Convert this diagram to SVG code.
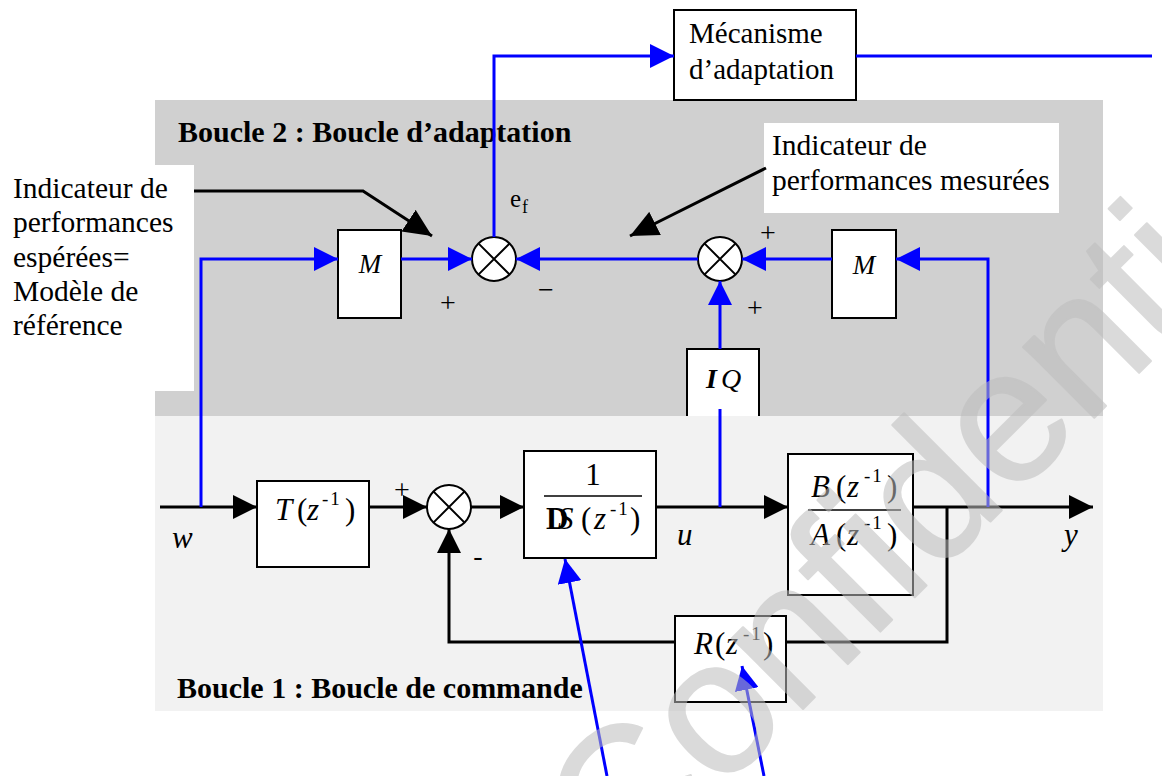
<svg xmlns="http://www.w3.org/2000/svg" width="1162" height="776" viewBox="0 0 1162 776">
<defs>
<style>
.blk{stroke:#000;stroke-width:3;fill:none}
.blu{stroke:#0000ff;stroke-width:3;fill:none}
.box{fill:#fff;stroke:#000;stroke-width:2}
.t{font-family:"Liberation Serif","Times New Roman",serif;fill:#000}
.lbl{font-size:29.5px}
.hd{font-size:30px;font-weight:bold}
.m{font-size:31px}
.i{font-style:italic}
.s{font-size:19px;letter-spacing:2px;font-style:normal}
.sg{font-size:28px;text-anchor:middle}
</style>
<marker id="ab" viewBox="0 0 24 24" markerWidth="24" markerHeight="24" refX="24" refY="12" orient="auto" markerUnits="userSpaceOnUse"><path d="M0,0L24,12L0,24z" fill="#000"/></marker>
<marker id="au" viewBox="0 0 24 24" markerWidth="24" markerHeight="24" refX="24" refY="12" orient="auto" markerUnits="userSpaceOnUse"><path d="M0,0L24,12L0,24z" fill="#0000ff"/></marker>
<marker id="ac" viewBox="0 0 28 26" markerWidth="28" markerHeight="26" refX="28" refY="13" orient="auto" markerUnits="userSpaceOnUse"><path d="M0,0L28,13L0,26z" fill="#000"/></marker>
<g id="sj"><circle r="22" fill="#fff" stroke="#000" stroke-width="2"/><path d="M-15.6,-15.6L15.6,15.6M15.6,-15.6L-15.6,15.6" stroke="#000" stroke-width="2"/></g>
</defs>

<g id="regions">
<rect x="155" y="100" width="948" height="316" fill="#d0d0d0"/>
<rect x="155" y="416" width="948" height="295" fill="#f2f2f2"/>
<rect x="0" y="165" width="194" height="226" fill="#fff"/>
<rect x="764" y="123" width="295" height="90" fill="#fff"/>
<text class="t hd" x="178" y="142">Boucle 2 : Boucle d’adaptation</text>
<text class="t hd" x="177" y="698">Boucle 1 : Boucle de commande</text>
</g>

<g id="label-esperees">
<text class="t lbl" x="13" y="198">Indicateur de</text>
<text class="t lbl" x="13" y="232">performances</text>
<text class="t lbl" x="13" y="267">espérées=</text>
<text class="t lbl" x="13" y="301">Modèle de</text>
<text class="t lbl" x="13" y="335">référence</text>
</g>

<g id="label-mesurees">
<text class="t lbl" x="772" y="155">Indicateur de</text>
<text class="t lbl" x="772" y="190">performances mesurées</text>
</g>

<g id="mecanisme">
<rect class="box" x="674" y="10" width="182" height="90"/>
<text class="t" font-size="29" x="689" y="43">Mécanisme</text>
<text class="t" font-size="29" x="689" y="79">d’adaptation</text>
</g>

<g id="M1">
<rect class="box" x="338" y="230" width="63" height="88"/>
<text class="t i" font-size="27" text-anchor="middle" x="370" y="273">M</text>
</g>
<g id="M2">
<rect class="box" x="832" y="230" width="64" height="88"/>
<text class="t i" font-size="27" text-anchor="middle" x="864" y="274">M</text>
</g>

<g id="IQ">
<path d="M687,416V349H759V416" fill="#fff" stroke="#000" stroke-width="2"/>
<text class="t" font-size="28"><tspan x="706" y="388" font-weight="bold" font-style="italic">I</tspan><tspan x="721" y="388" font-style="italic">Q</tspan></text>
</g>

<g id="sum1"><use href="#sj" x="494" y="259"/></g>
<g id="sum2"><use href="#sj" x="720" y="259"/></g>
<g id="sum3"><use href="#sj" x="449" y="507"/></g>

<g id="T">
<rect class="box" x="257" y="481" width="112" height="86"/>
<text class="t m"><tspan x="275" y="520" class="i">T</tspan><tspan x="297" y="520">(</tspan><tspan x="307" y="520" class="i">z</tspan><tspan x="322" y="505" class="s">-1</tspan><tspan x="345" y="520">)</tspan></text>
</g>

<g id="DS">
<rect class="box" x="524" y="451" width="132" height="107"/>
<text class="t m" x="593" y="485" text-anchor="middle">1</text>
<line x1="544" y1="496" x2="642" y2="496" stroke="#000" stroke-width="1.5"/>
<text class="t m"><tspan x="546" y="529" font-weight="bold">D</tspan><tspan x="558" y="529" class="i">S</tspan><tspan x="581" y="529">(</tspan><tspan x="594" y="529" class="i">z</tspan><tspan x="610" y="515" class="s">-1</tspan><tspan x="630" y="529">)</tspan></text>
</g>

<g id="BA">
<rect class="box" x="788" y="454" width="125" height="141"/>
<text class="t m"><tspan x="811" y="497" class="i">B</tspan><tspan x="836" y="497">(</tspan><tspan x="847" y="497" class="i">z</tspan><tspan x="864" y="482" class="s">-1</tspan><tspan x="887" y="497">)</tspan></text>
<line x1="808" y1="510" x2="901" y2="510" stroke="#000" stroke-width="1.5"/>
<text class="t m"><tspan x="811" y="545" class="i">A</tspan><tspan x="836" y="545">(</tspan><tspan x="847" y="545" class="i">z</tspan><tspan x="864" y="529" class="s">-1</tspan><tspan x="887" y="545">)</tspan></text>
</g>

<g id="R">
<rect class="box" x="675" y="616" width="111" height="86"/>
<text class="t m"><tspan x="694" y="654" class="i">R</tspan><tspan x="715" y="654">(</tspan><tspan x="726" y="654" class="i">z</tspan><tspan x="743" y="640" class="s">-1</tspan><tspan x="763" y="654">)</tspan></text>
</g>

<g id="connectors">
<path class="blk" d="M160,507H257" marker-end="url(#ab)"/>
<path class="blk" d="M369,507H427" marker-end="url(#ab)"/>
<path class="blk" d="M471,507H524" marker-end="url(#ab)"/>
<path class="blk" d="M656,507H788" marker-end="url(#ab)"/>
<path class="blk" d="M913,507H1093" marker-end="url(#ab)"/>
<path class="blk" d="M947,507V642H786"/>
<path class="blk" d="M675,642H449V529" marker-end="url(#ab)"/>
<path class="blu" d="M201,507V259H338" marker-end="url(#au)"/>
<path class="blu" d="M401,259H472" marker-end="url(#au)"/>
<path class="blu" d="M698,259H516" marker-end="url(#au)"/>
<path class="blu" d="M832,259H742" marker-end="url(#au)"/>
<path class="blu" d="M988,507V259H896" marker-end="url(#au)"/>
<path class="blu" d="M720,507V409"/>
<path class="blu" d="M720,349V281" marker-end="url(#au)"/>
<path class="blu" d="M494,237V56H674" marker-end="url(#au)"/>
<path class="blu" d="M856,56H1152"/>
<path class="blu" d="M607,776L565,559" marker-end="url(#au)"/>
<path class="blu" d="M764,776L742,666" marker-end="url(#au)"/>
<path class="blk" d="M194,191H363L432,236" marker-end="url(#ac)"/>
<path class="blk" d="M766,168L630,236" marker-end="url(#ac)"/>
</g>

<g id="signals">
<text class="t" font-size="25" x="510" y="207">e</text>
<text class="t" font-size="18" x="522" y="213">f</text>
<text class="t m i" x="677" y="545">u</text>
<text class="t m i" x="172" y="548">w</text>
<text class="t m i" x="1064" y="545">y</text>
<text class="t sg" x="448" y="312">+</text>
<text class="t sg" x="546" y="299">−</text>
<text class="t sg" x="768" y="242">+</text>
<text class="t sg" x="755" y="317">+</text>
<text class="t sg" x="402" y="499">+</text>
<text class="t sg" x="478" y="565">-</text>
</g>

<text transform="translate(622,890) rotate(-45)" font-family="'Liberation Sans',Arial,sans-serif" font-size="190" fill="#bdbdbd" stroke="#bdbdbd" stroke-width="2" stroke-linejoin="round" opacity="0.55">Confidential</text>
</svg>
